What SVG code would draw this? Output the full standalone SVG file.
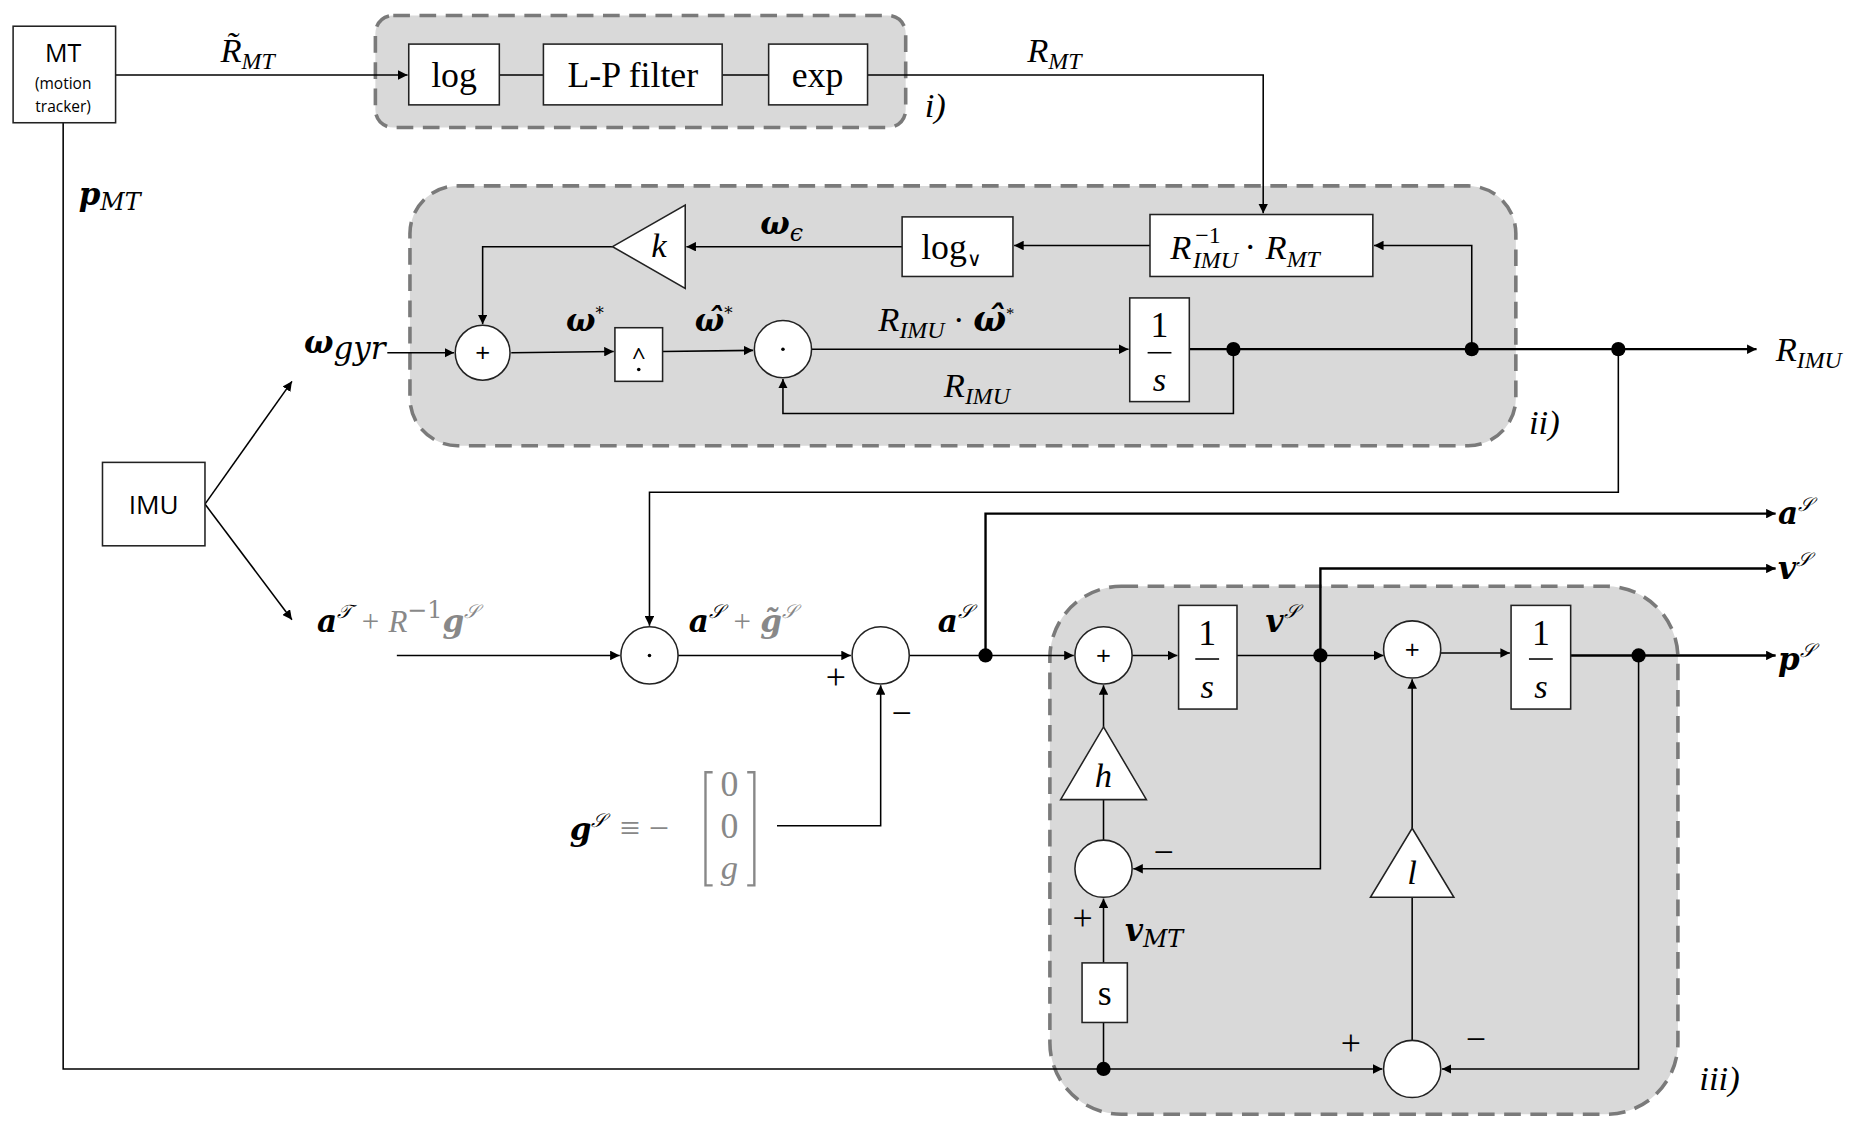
<svg xmlns="http://www.w3.org/2000/svg" width="1865" height="1131" viewBox="0 0 1865 1131">
<defs>
<marker id="ar" viewBox="0 0 10 10" refX="10" refY="5" markerWidth="8" markerHeight="8" markerUnits="userSpaceOnUse" orient="auto"><path d="M0,0 L10,5 L0,10 z" fill="#000"/></marker>
<style>
.ln{fill:none;stroke:#000;stroke-width:1.3}
.th{fill:none;stroke:#000;stroke-width:2}
.bx{fill:#fff;stroke:#222;stroke-width:1.3}
.grp{fill:#d9d9d9;stroke:#7a7a7a;stroke-width:3;stroke-dasharray:14 8}
.m{font-family:"Liberation Serif",serif;font-style:italic;font-size:29px;fill:#000}
.b{font-family:"DejaVu Serif","Liberation Serif",serif;font-weight:bold;font-style:italic;font-size:26px;fill:#000}
.r{font-family:"Liberation Serif",serif;font-size:30px;fill:#000}
.s{font-family:"Open Sans","Liberation Sans",sans-serif;fill:#000}
.g{fill:#888}
.c{text-anchor:middle}
.sub{font-size:20px}
.dot{fill:#000}
</style>
</defs>
<rect width="1865" height="1131" fill="#fff"/>
<g transform="scale(1.1917)">
<g id="groups">
<rect class="grp" x="315" y="13" width="445" height="94" rx="15"/>
<rect class="grp" x="344" y="156" width="928" height="218" rx="40"/>
<rect class="grp" x="881" y="492" width="527" height="443" rx="60"/>
<text class="m" x="776" y="98">i)</text>
<text class="m" x="1283" y="364">ii)</text>
<text class="m" x="1426" y="915">iii)</text>
</g>
<g id="connectors">
<path class="ln" d="M97,63 H342" marker-end="url(#ar)"/>
<path class="ln" d="M419,63 H456 M606,63 H645"/>
<path class="ln" d="M728,63 H1060 V179" marker-end="url(#ar)"/>
<path class="ln" d="M965,206 H851" marker-end="url(#ar)"/>
<path class="ln" d="M757,207 H576" marker-end="url(#ar)"/>
<path class="ln" d="M514,207 H405 V272" marker-end="url(#ar)"/>
<path class="ln" d="M325,296 H381" marker-end="url(#ar)"/>
<path class="ln" d="M429,296 L515,295" marker-end="url(#ar)"/>
<path class="ln" d="M556,295 L632,294" marker-end="url(#ar)"/>
<path class="ln" d="M681,293 H947" marker-end="url(#ar)"/>
<path class="th" d="M998,293 H1474" marker-end="url(#ar)"/>
<path class="ln" d="M1035,293 V347 H657 V318" marker-end="url(#ar)"/>
<path class="ln" d="M1235,293 V206 H1153" marker-end="url(#ar)"/>
<path class="ln" d="M1358,293 V413 H545 V525" marker-end="url(#ar)"/>
<path class="ln" d="M172,423 L245,320" marker-end="url(#ar)"/>
<path class="ln" d="M172,423 L245,520" marker-end="url(#ar)"/>
<path class="ln" d="M333,550 H520" marker-end="url(#ar)"/>
<path class="ln" d="M569,550 H714" marker-end="url(#ar)"/>
<path class="ln" d="M652,693 H739 V575" marker-end="url(#ar)"/>
<path class="ln" d="M763,550 H827"/>
<path class="th" d="M827,550 V431 H1490" marker-end="url(#ar)"/>
<path class="ln" d="M827,550 H901" marker-end="url(#ar)"/>
<path class="ln" d="M950,550 H988" marker-end="url(#ar)"/>
<path class="ln" d="M1038,550 H1161" marker-end="url(#ar)"/>
<path class="th" d="M1108,550 V477 H1490" marker-end="url(#ar)"/>
<path class="ln" d="M1209,548 H1267" marker-end="url(#ar)"/>
<path class="th" d="M1318,550 H1490" marker-end="url(#ar)"/>
<path class="ln" d="M1375,550 V897 H1210" marker-end="url(#ar)"/>
<path class="ln" d="M1185,873 V753 M1185,695 V570" marker-end="url(#ar)"/>
<path class="ln" d="M926,610 V575" marker-end="url(#ar)"/>
<path class="ln" d="M926,671 V705"/>
<path class="ln" d="M1108,550 V729 H951" marker-end="url(#ar)"/>
<path class="ln" d="M926,808 V754" marker-end="url(#ar)"/>
<path class="ln" d="M926,858 V897"/>
<path class="ln" d="M53,103 V897 H1160" marker-end="url(#ar)"/>
<circle class="dot" cx="1035" cy="293" r="6"/>
<circle class="dot" cx="1235" cy="293" r="6"/>
<circle class="dot" cx="1358" cy="293" r="6"/>
<circle class="dot" cx="827" cy="550" r="6"/>
<circle class="dot" cx="1108" cy="550" r="6"/>
<circle class="dot" cx="1375" cy="550" r="6"/>
<circle class="dot" cx="926" cy="897" r="6"/>
</g>
<g id="MT"><rect class="bx" x="11" y="22" width="86" height="81"/>
<text class="s c" x="53" y="52" font-size="21">MT</text>
<text class="s c" x="53" y="75" font-size="13">(motion</text>
<text class="s c" x="53" y="94" font-size="13">tracker)</text></g>
<g id="IMU"><rect class="bx" x="86" y="388" width="86" height="70"/>
<text class="s c" x="129" y="431" font-size="22">IMU</text></g>
<g id="log"><rect class="bx" x="343" y="37" width="76" height="51"/><text class="r c" x="381" y="73">log</text></g>
<g id="lp"><rect class="bx" x="456" y="37" width="150" height="51"/><text class="r c" x="531" y="73">L-P filter</text></g>
<g id="exp"><rect class="bx" x="645" y="37" width="83" height="51"/><text class="r c" x="686" y="73">exp</text></g>
<g id="rr"><rect class="bx" x="965" y="180" width="187" height="52"/>
<text class="m" x="982" y="217">R</text>
<text class="m sub" x="1001" y="225">IMU</text>
<text class="r sub" x="1003" y="204">−1</text>
<text class="r" x="1044" y="217">·</text>
<text class="m" x="1062" y="217">R<tspan class="sub" dy="7">MT</tspan></text></g>
<g id="logv"><rect class="bx" x="757" y="182" width="93" height="50"/>
<text class="r" x="773" y="217">log<tspan font-size="17" dy="6">∨</tspan></text></g>
<g id="k"><path class="bx" d="M514,207 L575,172 L575,242 Z"/><text class="m c" x="553" y="216">k</text></g>
<g id="sum1"><circle class="bx" cx="405" cy="296" r="23"/><text class="s c" x="405" y="304" font-size="22">+</text></g>
<g id="hat"><rect class="bx" x="516" y="275" width="40" height="45"/><text class="s c" x="536" y="306" font-size="20">^</text><circle class="dot" cx="536" cy="310" r="1.5"/></g>
<g id="mul1"><circle class="bx" cx="657" cy="293" r="24"/><circle class="dot" cx="657" cy="293" r="1.5"/></g>
<g id="int1"><rect class="bx" x="948" y="250" width="50" height="87"/>
<text class="r c" x="973" y="283">1</text><path class="ln" d="M963,296 H983"/><text class="m c" x="973" y="328">s</text></g>
<g id="mul2"><circle class="bx" cx="545" cy="550" r="24"/><circle class="dot" cx="545" cy="550" r="1.5"/></g>
<g id="sub1"><circle class="bx" cx="739" cy="550" r="24"/></g>
<g id="sum2"><circle class="bx" cx="926" cy="550" r="24"/><text class="s c" x="926" y="558" font-size="22">+</text></g>
<g id="int2"><rect class="bx" x="989" y="508" width="49" height="87"/>
<text class="r c" x="1013" y="541">1</text><path class="ln" d="M1003,553 H1023"/><text class="m c" x="1013" y="586">s</text></g>
<g id="sum3"><circle class="bx" cx="1185" cy="545" r="24"/><text class="s c" x="1185" y="553" font-size="22">+</text></g>
<g id="int3"><rect class="bx" x="1268" y="508" width="50" height="87"/>
<text class="r c" x="1293" y="541">1</text><path class="ln" d="M1283,553 H1303"/><text class="m c" x="1293" y="586">s</text></g>
<g id="h"><path class="bx" d="M926,610 L962,671 L890,671 Z"/><text class="m c" x="926" y="660">h</text></g>
<g id="l"><path class="bx" d="M1185,695 L1220,753 L1150,753 Z"/><text class="m c" x="1185" y="742">l</text></g>
<g id="sub2"><circle class="bx" cx="926" cy="729" r="24"/></g>
<g id="sbox"><rect class="bx" x="908" y="808" width="38" height="50"/><text class="r c" x="927" y="843" font-size="24">s</text></g>
<g id="sub3"><circle class="bx" cx="1185" cy="897" r="24"/></g>
<g id="labels">
<text class="m" x="185" y="52">R̃<tspan class="sub" dy="6">MT</tspan></text>
<text class="m" x="862" y="52">R<tspan class="sub" dy="6">MT</tspan></text>
<text class="b" x="66" y="172">p<tspan class="sub" font-weight="normal" dy="4">MT</tspan></text>
<text class="b" x="638" y="196">ω<tspan class="sub" font-weight="normal" dy="6">ϵ</tspan></text>
<text class="b" x="255" y="296">ω<tspan font-weight="normal" font-size="26" dy="5">gyr</tspan></text>
<text class="b" x="475" y="278">ω<tspan font-size="14" font-weight="normal" dy="-10">*</tspan></text>
<text class="b" x="583" y="278">ω̂<tspan font-size="14" font-weight="normal" dy="-10">*</tspan></text>
<text class="m" x="737" y="278">R<tspan class="sub" dy="6">IMU</tspan><tspan font-style="normal" dy="-6"> · </tspan><tspan font-weight="bold" font-family="DejaVu Serif">ω̂</tspan><tspan font-size="14" font-style="normal" dy="-10">*</tspan></text>
<text class="m" x="792" y="333">R<tspan class="sub" dy="6">IMU</tspan></text>
<text class="m" x="1490" y="303">R<tspan class="sub" dy="6">IMU</tspan></text>
<text class="b" x="266" y="530">a<tspan font-size="16" font-weight="normal" dy="-11">𝒯</tspan><tspan class="g" font-weight="normal" font-family="Liberation Serif" dy="11"> + R</tspan><tspan class="g sub" font-weight="normal" font-style="normal" dy="-11">−1</tspan><tspan class="g" dy="11">g</tspan><tspan class="g" font-size="16" font-weight="normal" dy="-11">𝒮</tspan></text>
<text class="b" x="578" y="530">a<tspan font-size="16" font-weight="normal" dy="-11">𝒮</tspan><tspan class="g" font-weight="normal" font-family="Liberation Serif" dy="11"> + </tspan><tspan class="g">g̃</tspan><tspan class="g" font-size="16" font-weight="normal" dy="-11">𝒮</tspan></text>
<text class="b" x="787" y="530">a<tspan font-size="16" font-weight="normal" dy="-11">𝒮</tspan></text>
<text class="b" x="1062" y="530">v<tspan font-size="16" font-weight="normal" dy="-11">𝒮</tspan></text>
<text class="b" x="1492" y="440">a<tspan font-size="16" font-weight="normal" dy="-11">𝒮</tspan></text>
<text class="b" x="1492" y="486">v<tspan font-size="16" font-weight="normal" dy="-11">𝒮</tspan></text>
<text class="b" x="1492" y="562">p<tspan font-size="16" font-weight="normal" dy="-11">𝒮</tspan></text>
<text class="b" x="944" y="790">v<tspan class="sub" font-weight="normal" dy="5">MT</tspan></text>
<text class="b" x="478" y="705">g<tspan font-size="16" font-weight="normal" dy="-11">𝒮</tspan></text>
<text class="r g" x="520" y="705">≡ −</text>
<g class="g"><path d="M598,648 h-6 v95 h6 M627,648 h6 v95 h-6" fill="none" stroke="#888" stroke-width="2"/>
<text class="r c g" x="612" y="668">0</text><text class="r c g" x="612" y="703">0</text><text class="m c g" x="612" y="738" font-size="28">g</text></g>
<text class="r" x="693" y="578" font-size="22">+</text>
<text class="r" x="748" y="608" font-size="22">−</text>
<text class="r" x="968" y="725" font-size="22">−</text>
<text class="r" x="900" y="780" font-size="22">+</text>
<text class="r" x="1125" y="885" font-size="22">+</text>
<text class="r" x="1230" y="882" font-size="22">−</text>
</g>
</g>
</svg>
